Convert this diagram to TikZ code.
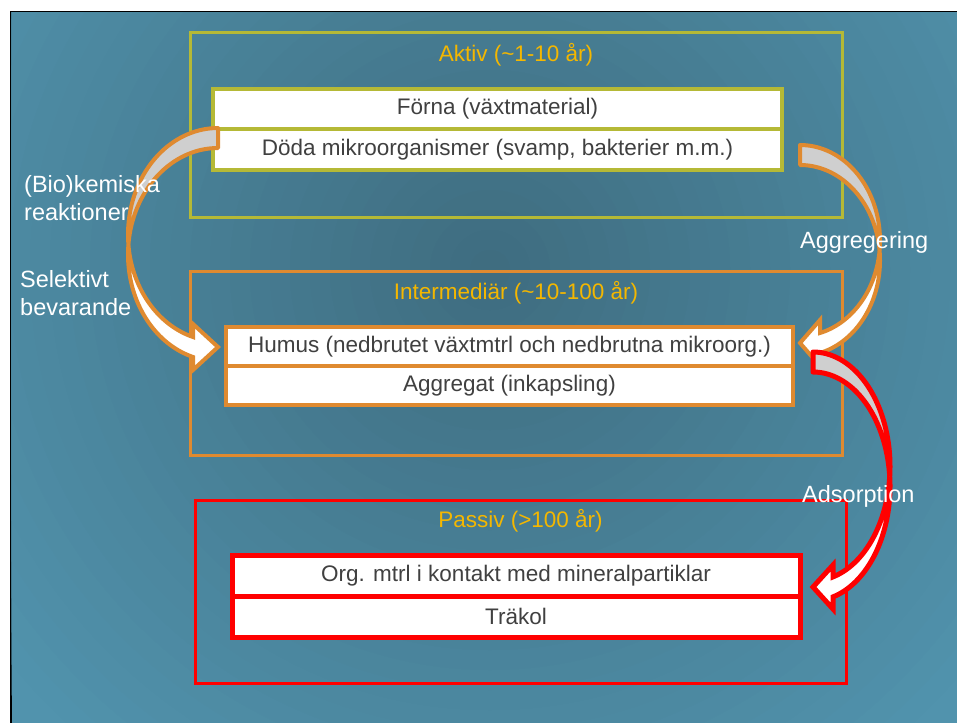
\documentclass[tikz,border=0pt]{standalone}
\usepackage{fontspec}
\setmainfont{Liberation Sans}
\usetikzlibrary{positioning}

\definecolor{bgdark}{HTML}{3F6D80}
\definecolor{bglight}{HTML}{5193AD}
\definecolor{aktivcol}{HTML}{B5B936}
\definecolor{intercol}{HTML}{DF8A30}
\definecolor{passivcol}{HTML}{FF0000}
\definecolor{titlecol}{HTML}{F4B700}
\definecolor{boxtext}{HTML}{404040}
\definecolor{backfill}{HTML}{CFCFCF}

\begin{document}
\begin{tikzpicture}[x=1pt,y=-1pt,
  tier frame/.style={draw,line width=3pt,minimum width=652pt,minimum height=184pt,inner sep=0pt,outer sep=0pt},
  tier title/.style={text=titlecol,font=\fontsize{22.5}{27}\selectfont,anchor=base},
  pool box/.style={draw,fill=white,line width=4pt,minimum width=569pt,minimum height=40pt,inner sep=0pt,outer sep=0pt,text=boxtext,font=\fontsize{22.5}{27}\selectfont},
  side label/.style={text=white,align=left,font=\fontsize{23.5}{28}\selectfont,inner sep=0pt},
  curve back/.style={fill=backfill,line width=4pt,line join=round},
  curve front/.style={fill=white,line width=4pt,line join=miter}]

  \useasboundingbox (0,0) rectangle (957,722);
  % slide background
  \fill[white] (-10,-10) rectangle (967,732);
  \fill[black] (9.5,11) rectangle (967,732);
  \fill[bglight] (11.5,13) rectangle (967,732);
  \begin{scope}
    \clip (11.5,13) rectangle (967,732);
    \foreach \k in {0,...,31} {
      \pgfmathsetmacro\rad{640-20*\k}
      \pgfmathsetmacro\mix{100*\k/31}
      \fill[bgdark!\mix!bglight] (490,270) circle (\rad pt);
    }
  \end{scope}

  % the three pools
  \node[tier frame,draw=aktivcol] (aktiv) at (516,125) {};
  \node[tier title] (aktivtitle) at (516,62) {Aktiv (\textasciitilde1-10 år)};
  \node[pool box,draw=aktivcol] (forna) at (497.5,109) {Förna (växtmaterial)};
  \node[pool box,draw=aktivcol,minimum height=41pt,below=0pt of forna] (doda) {Döda mikroorganismer (svamp, bakterier m.m.)};

  \node[tier frame,draw=intercol] (inter) at (516,363) {};
  \node[tier title] (intertitle) at (516,299.5) {Intermediär (\textasciitilde10-100 år)};
  \node[pool box,draw=intercol,minimum width=567pt,minimum height=39pt] (humus) at (509.5,346.5) {Humus (nedbrutet växtmtrl och nedbrutna mikroorg.)};
  \node[pool box,draw=intercol,minimum width=567pt,minimum height=39pt,below=0pt of humus] (aggregat) {Aggregat (inkapsling)};

  \node[tier frame,draw=passivcol,minimum width=651pt,minimum height=183pt] (passiv) at (520.5,591.5) {};
  \node[tier title] (passivtitle) at (520.5,527) {Passiv (>100 år)};
  \node[pool box,draw=passivcol,minimum width=568pt,minimum height=41pt,line width=5pt] (orgmtrl) at (516,575.5) {Org. mtrl i kontakt med mineralpartiklar};
  \node[pool box,draw=passivcol,minimum width=568pt,minimum height=41pt,line width=5pt,below=0pt of orgmtrl] (trakol) {Träkol};

  % (bio)kemiska reaktioner: doda -> humus
  \filldraw[curve back,draw=intercol]
    plot[domain=270:174.62,samples=40] ({218+90*cos(\x)},{234.6+106.6*sin(\x)})
    -- plot[domain=185.38:270,samples=40] ({218+90*cos(\x)},{254.6+106.6*sin(\x)}) -- cycle;
  \filldraw[curve front,draw=intercol]
    plot[domain=185.38:106.1,samples=40] ({218+90*cos(\x)},{254.6+106.6*sin(\x)})
    -- (193,370) -- (218,347) -- (193,324)
    -- plot[domain=106.1:174.62,samples=40] ({218+90*cos(\x)},{234.6+106.6*sin(\x)}) -- cycle;

  % aggregering: doda -> humus
  \filldraw[curve back,draw=intercol]
    plot[domain=270:366.01,samples=40] ({800+80*cos(\x)},{240.5+95.5*sin(\x)})
    -- plot[domain=353.99:270,samples=40] ({800+80*cos(\x)},{260.5+95.5*sin(\x)}) -- cycle;
  \filldraw[curve front,draw=intercol]
    plot[domain=353.99:435.52,samples=40] ({800+80*cos(\x)},{260.5+95.5*sin(\x)})
    -- (820,366) -- (800,343) -- (820,320)
    -- plot[domain=435.52:366.01,samples=40] ({800+80*cos(\x)},{240.5+95.5*sin(\x)}) -- cycle;

  % adsorption: humus -> orgmtrl
  \filldraw[curve back,draw=passivcol,line width=5pt]
    plot[domain=270:365.01,samples=40] ({813+77*cos(\x)},{466.4+114.4*sin(\x)})
    -- plot[domain=354.99:270,samples=40] ({813+77*cos(\x)},{486.4+114.4*sin(\x)}) -- cycle;
  \filldraw[curve front,draw=passivcol,line width=5pt]
    plot[domain=354.99:434.95,samples=40] ({813+77*cos(\x)},{486.4+114.4*sin(\x)})
    -- (833,609) -- (813,587) -- (833,565)
    -- plot[domain=434.95:365.01,samples=40] ({813+77*cos(\x)},{466.4+114.4*sin(\x)}) -- cycle;

  % process labels
  \node[side label,anchor=north west] (biokem) at (24,175) {(Bio)kemiska\\reaktioner};
  \node[side label,anchor=north west] (selektivt) at (20,270) {Selektivt\\bevarande};
  \node[side label,anchor=base west] (aggreg) at (800,248) {Aggregering};
  \node[side label,anchor=base west] (adsorp) at (802,502) {Adsorption};
\end{tikzpicture}
\end{document}
